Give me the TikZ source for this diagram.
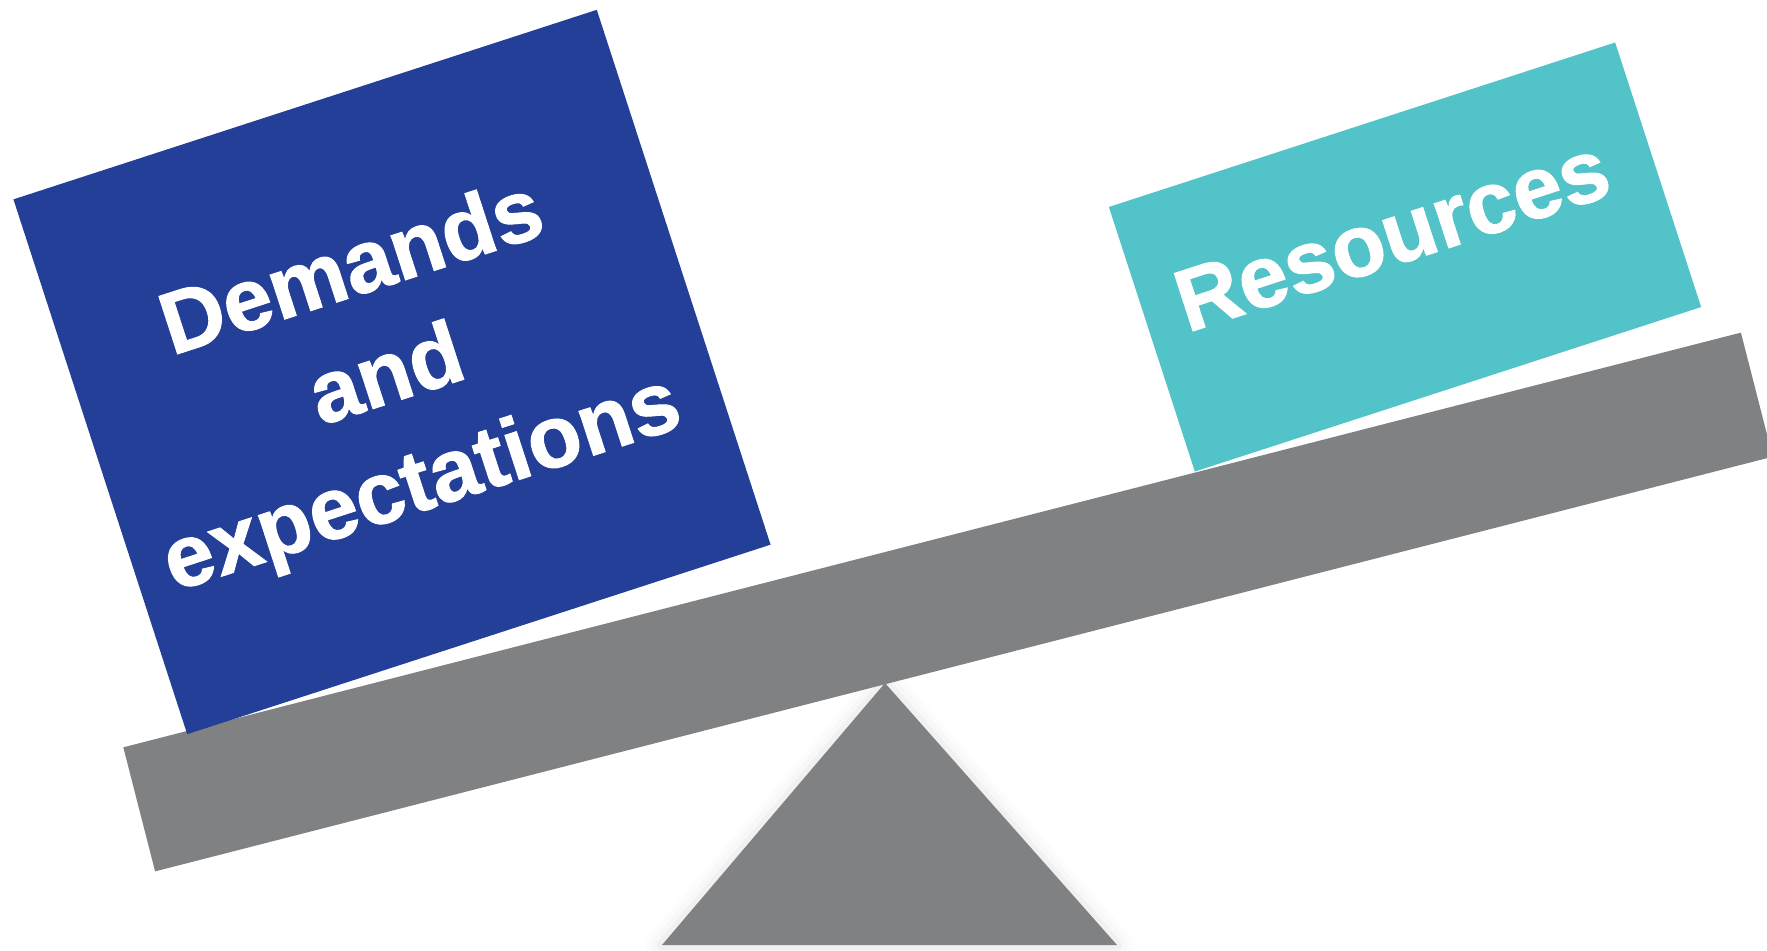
\documentclass[tikz,border=0pt]{standalone}
\usepackage{fontspec}
\setmainfont[BoldFeatures={FakeBold=1.2}]{Liberation Sans}

\definecolor{demandblue}{HTML}{233F97}
\definecolor{resourcecyan}{HTML}{52C3C8}
\definecolor{beamgray}{HTML}{808183}

\tikzstyle{block}=[rectangle, inner sep=0cm]
\tikzstyle{caption}=[text=white, align=center, rotate=18,
                     font=\bfseries\fontsize{25}{32}\selectfont]

\begin{document}
\begin{tikzpicture}[x=0.01cm, y=0.01cm]

\clip (0,0) rectangle (1767,950);
\fill [white] (0,0) rectangle (1767,950);

%%%%%%%%%%%%%%%%%%
%%%%%%%%%%%%%%%%%%
\coordinate (apex_Pivot) at (885,267);

\coordinate (left_Pivot) at (662,5);

\coordinate (right_Pivot) at (1117,5);

\foreach \w/\o in {9/0.02, 6/0.03, 3/0.05}
  \draw [beamgray, line width=\w pt, opacity=\o, line join=round]
        (apex_Pivot) -- (left_Pivot) -- (right_Pivot) -- cycle;

\fill [beamgray] (apex_Pivot) -- (left_Pivot) -- (right_Pivot) -- cycle;

%%%%%%%%%%%%%%%%%%
\node (Beam) at (948,348) [block, fill=beamgray, rotate=14.38,
      minimum width=16.69cm, minimum height=1.28cm] {};

%%%%%%%%%%%%%%%%%%
\node (Demands) at (392,578) [block, fill=demandblue, rotate=18,
      minimum width=6.13cm, minimum height=5.62cm] {};

\node (Resources) at (1405,693) [block, fill=resourcecyan, rotate=18,
      minimum width=5.32cm, minimum height=2.78cm] {};

%%%%%%%%%%%%%%%%%%%
\node (demands_Text) at (388,570) [caption] {Demands\\and\\expectations};

\node (resources_Text) at (1392,715) [caption] {Resources};

\end{tikzpicture}
\end{document}
